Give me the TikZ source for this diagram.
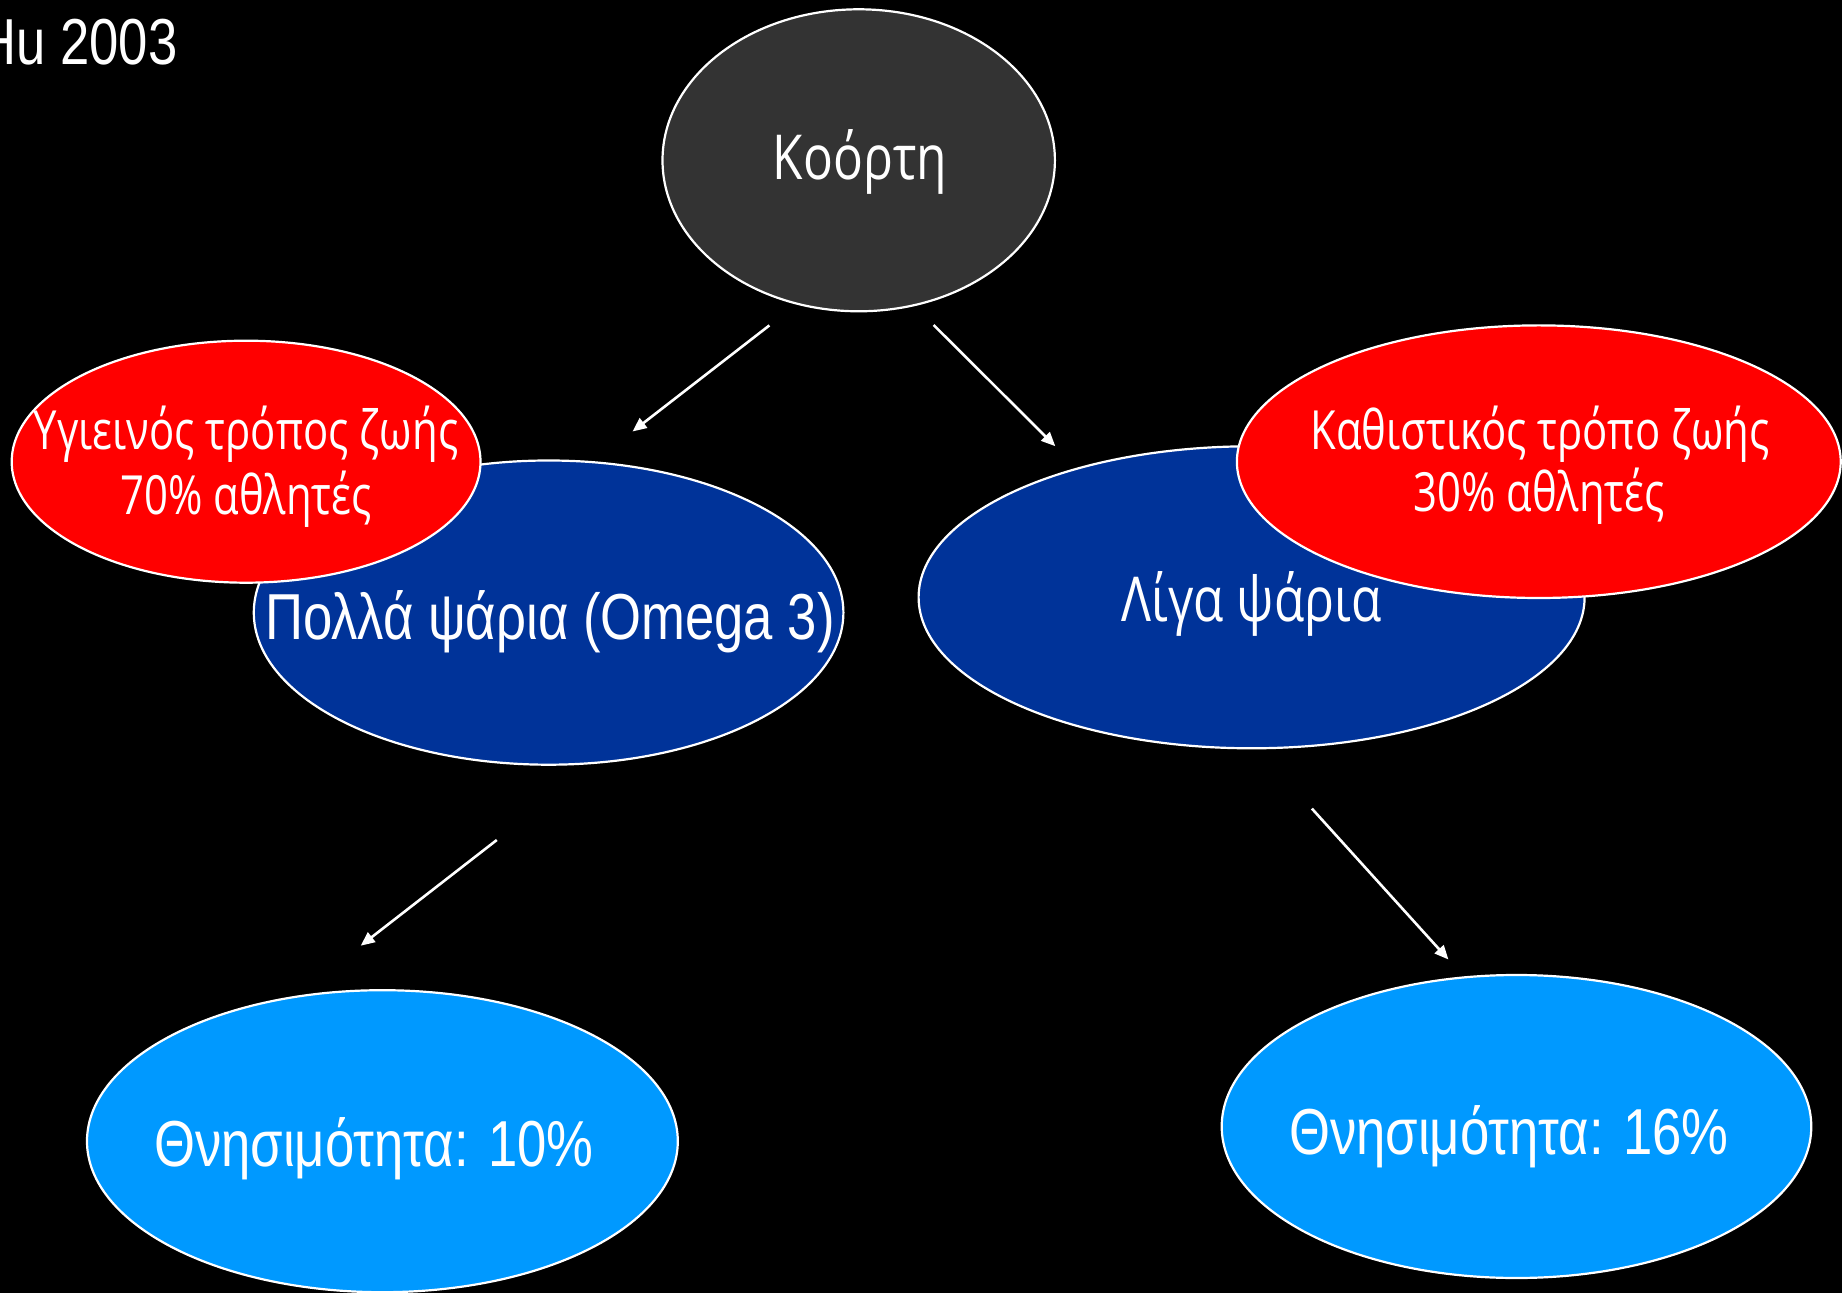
\documentclass[tikz,border=0pt]{standalone}
\usepackage{fontspec}
\setmainfont{Liberation Sans}[FakeStretch=0.81]
\newfontfamily\hfont{Open Sans}[FakeStretch=0.8]
\newfontfamily\rfont{Open Sans}[FakeStretch=0.775]
\usetikzlibrary{shapes.geometric,arrows.meta}
\definecolor{koorticol}{HTML}{333333}
\definecolor{darkblue}{HTML}{003399}
\definecolor{lightblue}{HTML}{0099FF}
\definecolor{redcol}{HTML}{FF0000}
\tikzset{
  ell/.style={ellipse, draw=white, line width=1.1pt, inner sep=0pt},
  txt/.style={text=white, inner sep=0pt, anchor=base},
  arrowline/.style={draw=white, line width=1.3pt, -{Triangle[length=7pt,width=6pt]}},
  narrowtxt/.style={txt, font=\fontsize{32.5}{36}\selectfont},
  humtxt/.style={txt, font=\hfont\fontsize{31}{36}\selectfont},
  redtxt/.style={txt, font=\rfont\fontsize{27}{32}\selectfont}
}
\begin{document}
\begin{tikzpicture}[x=0.5pt,y=-0.5pt]
\useasboundingbox (0,0) rectangle (1842,1293);
\clip (0,0) rectangle (1842,1293);
\fill[black] (0,0) rectangle (1842,1293);

\node[narrowtxt, anchor=base west] (hu) at (-22,65) {Hu 2003};

\node[ell, fill=koorticol, minimum width=196.2pt, minimum height=151pt] (koorti) at (858.7,160.3) {};
\node[humtxt] (koortit) at (860,180) {Κοόρτη};

\node[ell, fill=darkblue, minimum width=294.8pt, minimum height=152.1pt] (polla) at (548.6,612.6) {};
\node[ell, fill=redcol, minimum width=234.4pt, minimum height=121pt] (ygie) at (246.1,461.7) {};
\node[narrowtxt] (pollat) at (550,640) {Πολλά ψάρια (Omega 3)};
\node[redtxt] (ygiet1) at (246,450) {Υγιεινός τρόπος ζωής};
\node[redtxt] (ygiet2) at (246,515) {70\% αθλητές};

\node[ell, fill=darkblue, minimum width=333pt, minimum height=151pt] (liga) at (1251.6,597.3) {};
\node[ell, fill=redcol, minimum width=301.9pt, minimum height=136.3pt] (kath) at (1538.8,461.7) {};
\node[humtxt] (ligat) at (1251.5,622) {Λίγα ψάρια};
\node[redtxt] (katht1) at (1540,450) {Καθιστικός τρόπο ζωής};
\node[redtxt] (katht2) at (1539,512) {30\% αθλητές};

\node[ell, fill=lightblue, minimum width=295.4pt, minimum height=151pt] (th10) at (382.4,1141.2) {};
\node[narrowtxt] (th10t) at (374,1166) {Θνησιμότητα: 10\%};
\node[ell, fill=lightblue, minimum width=294.8pt, minimum height=151.5pt] (th16) at (1516.5,1126.5) {};
\node[narrowtxt] (th16t) at (1509,1154) {Θνησιμότητα: 16\%};

\coordinate (a1s) at (769.4,325.4);
\coordinate (a1e) at (632.5,431.5);
\coordinate (a2s) at (933.6,325);
\coordinate (a2e) at (1055.3,446.2);
\coordinate (a3s) at (496.8,840);
\coordinate (a3e) at (360.7,945.7);
\coordinate (a4s) at (1311.9,808.6);
\coordinate (a4e) at (1448.4,959.5);
\draw[arrowline] (a1s) -- (a1e);
\draw[arrowline] (a2s) -- (a2e);
\draw[arrowline] (a3s) -- (a3e);
\draw[arrowline] (a4s) -- (a4e);
\end{tikzpicture}
\end{document}
